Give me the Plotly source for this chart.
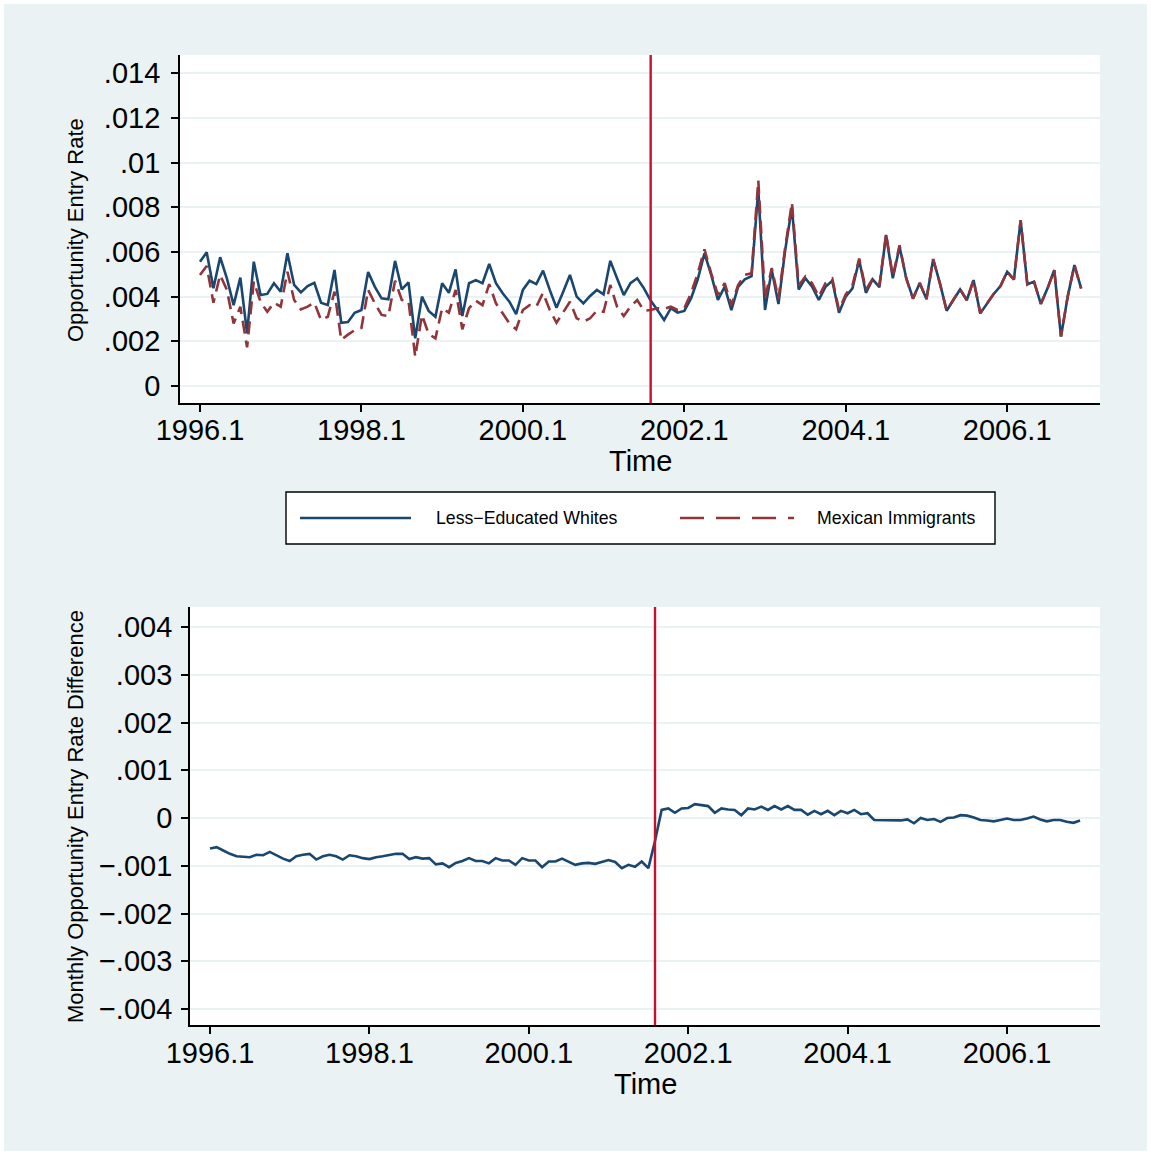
import plotly.graph_objects as go

# ---------------- data (month index 0 = 1996.1, 131 = 2006.12) ----------------
months = list(range(132))
tick_months = [0, 24, 48, 72, 96, 120]
tick_labels = ["1996.1", "1998.1", "2000.1", "2002.1", "2004.1", "2006.1"]
event_month = 67

whites = [
    0.00556, 0.00598, 0.00437, 0.00576, 0.00482, 0.00362, 0.00485, 0.00236, 0.00556, 0.00407,
    0.00412, 0.00460, 0.00422, 0.00594, 0.00452, 0.00419, 0.00447, 0.00462, 0.00373, 0.00362,
    0.00519, 0.00283, 0.00286, 0.00328, 0.00340, 0.00510, 0.00444, 0.00392, 0.00388, 0.00560,
    0.00432, 0.00464, 0.00213, 0.00400, 0.00336, 0.00310, 0.00460, 0.00417, 0.00522, 0.00313,
    0.00460, 0.00474, 0.00460, 0.00546, 0.00460, 0.00415, 0.00377, 0.00322, 0.00430, 0.00471,
    0.00456, 0.00516, 0.00430, 0.00350, 0.00422, 0.00497, 0.00400, 0.00370, 0.00403, 0.00430,
    0.00410, 0.00560, 0.00482, 0.00407, 0.00460, 0.00482, 0.00437, 0.00382, 0.00340, 0.00295,
    0.00348, 0.00328, 0.00336, 0.00392, 0.00477, 0.00594, 0.00497, 0.00385, 0.00444, 0.00340,
    0.00444, 0.00477, 0.00492, 0.00880, 0.00340, 0.00519, 0.00367, 0.00608, 0.00800, 0.00432,
    0.00482, 0.00444, 0.00385, 0.00444, 0.00471, 0.00328, 0.00400, 0.00437, 0.00564, 0.00417,
    0.00477, 0.00442, 0.00676, 0.00482, 0.00623, 0.00482, 0.00392, 0.00460, 0.00389, 0.00567,
    0.00460, 0.00337, 0.00385, 0.00432, 0.00385, 0.00474, 0.00325, 0.00370, 0.00412, 0.00447,
    0.00511, 0.00477, 0.00740, 0.00455, 0.00467, 0.00367, 0.00437, 0.00519, 0.00221, 0.00400,
    0.00541, 0.00437,
]

mexicans = [
    0.00497, 0.00537, 0.00373, 0.00497, 0.00430, 0.00280, 0.00355, 0.00173, 0.00467, 0.00377,
    0.00332, 0.00373, 0.00355, 0.00511, 0.00385, 0.00343, 0.00355, 0.00373, 0.00295, 0.00310,
    0.00422, 0.00206, 0.00230, 0.00250, 0.00260, 0.00430, 0.00370, 0.00318, 0.00313, 0.00471,
    0.00385, 0.00380, 0.00131, 0.00318, 0.00233, 0.00213, 0.00348, 0.00328, 0.00430, 0.00254,
    0.00348, 0.00382, 0.00362, 0.00456, 0.00370, 0.00325, 0.00280, 0.00254, 0.00340, 0.00362,
    0.00355, 0.00417, 0.00340, 0.00283, 0.00332, 0.00377, 0.00303, 0.00288, 0.00303, 0.00337,
    0.00332, 0.00452, 0.00355, 0.00313, 0.00355, 0.00385, 0.00337, 0.00340, 0.00348, 0.00345,
    0.00355, 0.00340, 0.00348, 0.00415, 0.00504, 0.00612, 0.00504, 0.00407, 0.00460, 0.00362,
    0.00452, 0.00497, 0.00504, 0.00920, 0.00390, 0.00528, 0.00390, 0.00620, 0.00820, 0.00450,
    0.00490, 0.00460, 0.00400, 0.00460, 0.00480, 0.00340, 0.00410, 0.00450, 0.00570, 0.00430,
    0.00480, 0.00450, 0.00680, 0.00490, 0.00630, 0.00480, 0.00390, 0.00462, 0.00388, 0.00568,
    0.00458, 0.00338, 0.00386, 0.00433, 0.00383, 0.00475, 0.00326, 0.00372, 0.00413, 0.00446,
    0.00512, 0.00476, 0.00742, 0.00454, 0.00466, 0.00368, 0.00436, 0.00520, 0.00222, 0.00401,
    0.00540, 0.00436,
]

difference = [
    -0.00064, -0.00061, -0.00068, -0.00075, -0.00080, -0.00081, -0.00082, -0.00077, -0.00078, -0.00071,
    -0.00078, -0.00085, -0.00090, -0.00080, -0.00077, -0.00075, -0.00087, -0.00080, -0.00077, -0.00080,
    -0.00087, -0.00078, -0.00080, -0.00084, -0.00086, -0.00082, -0.00080, -0.00078, -0.00075, -0.00075,
    -0.00086, -0.00082, -0.00085, -0.00084, -0.00097, -0.00095, -0.00103, -0.00094, -0.00090, -0.00084,
    -0.00090, -0.00090, -0.00095, -0.00084, -0.00089, -0.00089, -0.00098, -0.00084, -0.00089, -0.00089,
    -0.00103, -0.00091, -0.00091, -0.00085, -0.00092, -0.00098, -0.00095, -0.00094, -0.00096, -0.00092,
    -0.00088, -0.00092, -0.00105, -0.00098, -0.00102, -0.00091, -0.00105, -0.00048, 0.00017, 0.00020,
    0.00011, 0.00020, 0.00021, 0.00029, 0.00027, 0.00025, 0.00011, 0.00020, 0.00018, 0.00017,
    0.00006, 0.00020, 0.00018, 0.00024, 0.00017, 0.00025, 0.00018, 0.00025, 0.00017, 0.00017,
    0.00007, 0.00015, 0.00008, 0.00015, 0.00006, 0.00015, 0.00010, 0.00017, 0.00008, 0.00010,
    -0.00004, -0.00004, -0.00005, -0.00005, -0.00005, -0.00003, -0.00011, 0.00000, -0.00004, -0.00002,
    -0.00008, 0.00000, 0.00001, 0.00006, 0.00005, 0.00001, -0.00004, -0.00005, -0.00007, -0.00004,
    -0.00001, -0.00004, -0.00004, -0.00001, 0.00003, -0.00003, -0.00007, -0.00004, -0.00004, -0.00008,
    -0.00010, -0.00005,
]

top_yticks = [0, 0.002, 0.004, 0.006, 0.008, 0.010, 0.012, 0.014]
top_ylabels = ["0", ".002", ".004", ".006", ".008", ".01", ".012", ".014"]
bot_yticks = [-0.004, -0.003, -0.002, -0.001, 0, 0.001, 0.002, 0.003, 0.004]
bot_ylabels = ["\u2212.004", "\u2212.003", "\u2212.002", "\u2212.001", "0", ".001", ".002", ".003", ".004"]

series_names = ["Less\u2212Educated Whites", "Mexican Immigrants"]

# ---------------- styling ----------------
W, H = 1151, 1155
NAVY = "#1a476f"
MAROON = "#90353b"
VLINE = "#c8102e"
BG = "#eaf2f3"
GRID = "#eaf2f3"
FONT = "Liberation Sans, Arial, sans-serif"


def px(x):
    return x / W


def py(y):
    return 1 - y / H


fig = go.Figure()
fig.add_trace(go.Scatter(x=months, y=whites, mode="lines", name=series_names[0],
                         line=dict(color=NAVY, width=2.6), xaxis="x", yaxis="y"))
fig.add_trace(go.Scatter(x=months, y=mexicans, mode="lines", name=series_names[1],
                         line=dict(color=MAROON, width=2.6, dash="13px,7px"), xaxis="x", yaxis="y"))
fig.add_trace(go.Scatter(x=months, y=difference, mode="lines", name="Difference",
                         line=dict(color=NAVY, width=2.6), xaxis="x2", yaxis="y2"))

axis_common = dict(showline=True, linecolor="black", linewidth=1.8, ticks="outside", ticklen=7,
                   tickwidth=1.6, tickcolor="black", zeroline=False, automargin=False,
                   tickfont=dict(family=FONT, size=29, color="black"))

fig.update_layout(
    width=W, height=H,
    margin=dict(l=0, r=0, t=0, b=0),
    paper_bgcolor=BG, plot_bgcolor="white",
    showlegend=False,
    font=dict(family=FONT, color="black"),
    xaxis=dict(domain=[px(180), px(1100)], anchor="y", range=[-2.97, 133.8],
               tickvals=tick_months, ticktext=tick_labels, showgrid=False,
               ticklabelstandoff=-7, **axis_common),
    yaxis=dict(domain=[py(403), py(55)], anchor="x", range=[-0.00076, 0.01481],
               tickvals=top_yticks, ticktext=top_ylabels, showgrid=True, gridcolor=GRID,
               gridwidth=2, ticklabelstandoff=5, **axis_common),
    xaxis2=dict(domain=[px(190), px(1100)], anchor="y2", range=[-3.01, 134.0],
                tickvals=tick_months, ticktext=tick_labels, showgrid=False,
                ticklabelstandoff=-6, **axis_common),
    yaxis2=dict(domain=[py(1025), py(607)], anchor="x2", range=[-0.004335, 0.00442],
                tickvals=bot_yticks, ticktext=bot_ylabels, showgrid=True, gridcolor=GRID,
                gridwidth=2, ticklabelstandoff=3, **axis_common),
)

shapes = [
    # event lines
    dict(type="line", xref="x", yref="y domain", x0=event_month, x1=event_month, y0=0, y1=1,
         line=dict(color=VLINE, width=2.4)),
    dict(type="line", xref="x2", yref="y2 domain", x0=event_month, x1=event_month, y0=0, y1=1,
         line=dict(color=VLINE, width=2.4)),
    # legend box
    dict(type="rect", xref="paper", yref="paper", x0=px(286), x1=px(995), y0=py(544), y1=py(492),
         line=dict(color="black", width=1.4), fillcolor="white", layer="below"),
    dict(type="line", xref="paper", yref="paper", x0=px(300), x1=px(411), y0=py(518), y1=py(518),
         line=dict(color=NAVY, width=2.4)),
    dict(type="line", xref="paper", yref="paper", x0=px(680), x1=px(794), y0=py(518), y1=py(518),
         line=dict(color=MAROON, width=2.4, dash="24px,12px")),
    # thin white frame around the whole image
    dict(type="rect", xref="paper", yref="paper", x0=0, x1=1, y0=0, y1=1,
         line=dict(color="white", width=8), fillcolor="rgba(0,0,0,0)", layer="above"),
]
fig.update_layout(shapes=shapes)

annotations = [
    dict(text="Opportunity Entry Rate", x=px(75), y=py(230), textangle=-90,
         font=dict(size=22, family=FONT)),
    dict(text="Time", x=px(640), y=py(461), font=dict(size=29, family=FONT)),
    dict(text="Monthly Opportunity Entry Rate Difference", x=px(75), y=py(817), textangle=-90,
         font=dict(size=22, family=FONT)),
    dict(text="Time", x=px(645), y=py(1084), font=dict(size=29, family=FONT)),
    dict(text=series_names[0], x=px(434), y=py(518), xanchor="left", font=dict(size=17.7, family=FONT)),
    dict(text=series_names[1], x=px(815), y=py(518), xanchor="left", font=dict(size=17.7, family=FONT)),
]
for a in annotations:
    a.update(xref="paper", yref="paper", showarrow=False)
    a.setdefault("xanchor", "center")
    a.setdefault("yanchor", "middle")
fig.update_layout(annotations=annotations)

fig.write_html("out.html", post_script="document.body.style.margin='0';",
               config={"displayModeBar": False})
